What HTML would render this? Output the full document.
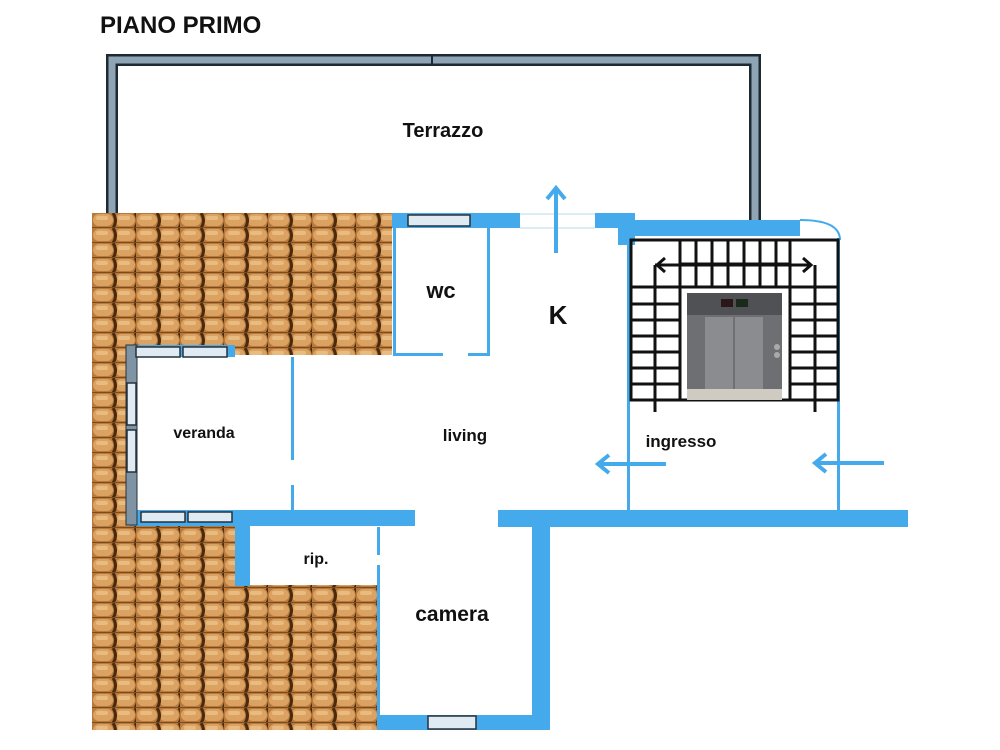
<!DOCTYPE html>
<html><head><meta charset="utf-8"><style>
html,body{margin:0;padding:0;background:#fff;width:1000px;height:750px;overflow:hidden}
text{font-family:"Liberation Sans",sans-serif;font-weight:bold;fill:#111}
</style></head><body>
<svg width="1000" height="750" viewBox="0 0 1000 750" xmlns="http://www.w3.org/2000/svg">
<defs>
<pattern id="tile" x="92" y="213" width="44" height="15" patternUnits="userSpaceOnUse">
<rect width="44" height="15" fill="#b87a3c"/>
<rect x="1" y="1" width="20" height="12" rx="6" fill="#dba262"/>
<rect x="23" y="1" width="20" height="12" rx="6" fill="#dba262"/>
<rect x="4" y="3" width="12" height="4" rx="2" fill="#e8bb80"/>
<rect x="26" y="3" width="12" height="4" rx="2" fill="#e8bb80"/>
<path d="M21 0 q5 7.5 0 15" stroke="#4a2a0e" stroke-width="3" fill="none"/>
<path d="M43 0 q5 7.5 0 15" stroke="#4a2a0e" stroke-width="3" fill="none"/>
<line x1="0" y1="14.5" x2="44" y2="14.5" stroke="#7a4c20" stroke-width="1"/>
</pattern>
</defs>
<text x="100" y="33" font-size="24">PIANO PRIMO</text>
<path d="M112 213 V60 H755 V220" fill="none" stroke="#1e2a33" stroke-width="12"/>
<path d="M112 213 V60 H755 V220" fill="none" stroke="#8fa5b5" stroke-width="7"/>
<line x1="432" y1="55" x2="432" y2="66" stroke="#1e2a33" stroke-width="2"/>
<rect x="92" y="213" width="300" height="142" fill="url(#tile)"/>
<rect x="92" y="343" width="38" height="185" fill="url(#tile)"/>
<rect x="92" y="525" width="143" height="62" fill="url(#tile)"/>
<rect x="92" y="585" width="286" height="145" fill="url(#tile)"/>
<g fill="#45aaec">
<rect x="392" y="213" width="128" height="15"/>
<rect x="595" y="213" width="40" height="15"/>
<rect x="618" y="213" width="17" height="32"/>
<rect x="635" y="220" width="165" height="16"/>
<rect x="393" y="228" width="3" height="128"/>
<rect x="487" y="228" width="3" height="128"/>
<rect x="393" y="353" width="50" height="3"/>
<rect x="468" y="353" width="22" height="3"/>
<rect x="627" y="245" width="3" height="266"/>
<rect x="837" y="238" width="3" height="273"/>
<rect x="498" y="510" width="410" height="17"/>
<rect x="130" y="510" width="285" height="16"/>
<rect x="130" y="345" width="105" height="12"/>
<rect x="291" y="357" width="3" height="103"/>
<rect x="291" y="485" width="3" height="25"/>
<rect x="235" y="510" width="15" height="76"/>
<rect x="377" y="527" width="3" height="28"/>
<rect x="377" y="565" width="3" height="165"/>
<rect x="378" y="715" width="172" height="15"/>
<rect x="532" y="527" width="18" height="203"/>
</g>
<path d="M800 220 Q840 220 840 240" fill="none" stroke="#45aaec" stroke-width="2"/>
<line x1="520" y1="214" x2="595" y2="214" stroke="#bcd8ea" stroke-width="1"/>
<line x1="520" y1="228" x2="595" y2="228" stroke="#bcd8ea" stroke-width="1"/>
<rect x="126" y="345" width="11" height="180" fill="#7e93a3" stroke="#27313a" stroke-width="1"/>
<g fill="#dfeaf2" stroke="#27313a" stroke-width="1.5">
<rect x="408" y="215" width="62" height="11"/>
<rect x="136" y="347" width="44" height="10"/>
<rect x="183" y="347" width="44" height="10"/>
<rect x="127" y="383" width="9" height="42"/>
<rect x="127" y="430" width="9" height="42"/>
<rect x="141" y="512" width="44" height="10"/>
<rect x="188" y="512" width="44" height="10"/>
<rect x="428" y="716" width="48" height="13"/>
</g>
<g stroke="#111" stroke-width="3" fill="none">
<rect x="631" y="240" width="207" height="160"/>
<line x1="680" y1="240" x2="680" y2="400"/>
<line x1="790" y1="240" x2="790" y2="400"/>
<line x1="680" y1="287" x2="790" y2="287"/>
<line x1="631" y1="287" x2="680" y2="287"/>
<line x1="790" y1="287" x2="838" y2="287"/>
<line x1="680" y1="264" x2="790" y2="264"/>
<line x1="696" y1="240" x2="696" y2="287"/><line x1="712" y1="240" x2="712" y2="287"/>
<line x1="728" y1="240" x2="728" y2="287"/><line x1="744" y1="240" x2="744" y2="287"/>
<line x1="760" y1="240" x2="760" y2="287"/><line x1="776" y1="240" x2="776" y2="287"/>
<line x1="631" y1="304" x2="680" y2="304"/><line x1="631" y1="320" x2="680" y2="320"/>
<line x1="631" y1="336" x2="680" y2="336"/><line x1="631" y1="352" x2="680" y2="352"/>
<line x1="631" y1="368" x2="680" y2="368"/><line x1="631" y1="384" x2="680" y2="384"/>
<line x1="790" y1="304" x2="838" y2="304"/><line x1="790" y1="320" x2="838" y2="320"/>
<line x1="790" y1="336" x2="838" y2="336"/><line x1="790" y1="352" x2="838" y2="352"/>
<line x1="790" y1="368" x2="838" y2="368"/><line x1="790" y1="384" x2="838" y2="384"/>
<line x1="655" y1="265" x2="655" y2="412"/><line x1="815" y1="265" x2="815" y2="412"/>
<path d="M655 265 H810 M665 258 L657 265 L665 272 M803 258 L811 265 L803 272"/>
</g>
<rect x="687" y="293" width="95" height="107" fill="#6d6f72"/>
<rect x="687" y="293" width="95" height="22" fill="#4f5154"/>
<rect x="705" y="317" width="58" height="72" fill="#8a8c8f"/>
<line x1="734" y1="317" x2="734" y2="389" stroke="#555" stroke-width="1"/>
<rect x="687" y="389" width="95" height="11" fill="#cfcbc2"/>
<rect x="721" y="299" width="12" height="8" fill="#2a1818"/><rect x="736" y="299" width="12" height="8" fill="#1a2a1a"/>
<circle cx="777" cy="347" r="3" fill="#aaa"/><circle cx="777" cy="355" r="3" fill="#aaa"/>
<g stroke="#45aaec" stroke-width="4" fill="none">
<line x1="556" y1="253" x2="556" y2="188"/><path d="M547 199 L556 188 L565 199"/>
<line x1="666" y1="464" x2="598" y2="464"/><path d="M609 455 L598 464 L609 473"/>
<line x1="884" y1="463" x2="815" y2="463"/><path d="M826 454 L815 463 L826 472"/>
</g>
<text x="443" y="137" font-size="20" text-anchor="middle">Terrazzo</text>
<text x="441" y="298" font-size="22" text-anchor="middle">wc</text>
<text x="558" y="324" font-size="26" text-anchor="middle">K</text>
<text x="204" y="438" font-size="16" text-anchor="middle">veranda</text>
<text x="465" y="441" font-size="17" text-anchor="middle">living</text>
<text x="681" y="447" font-size="17" text-anchor="middle">ingresso</text>
<text x="316" y="564" font-size="16" text-anchor="middle">rip.</text>
<text x="452" y="621" font-size="21" text-anchor="middle">camera</text>
</svg>
</body></html>
